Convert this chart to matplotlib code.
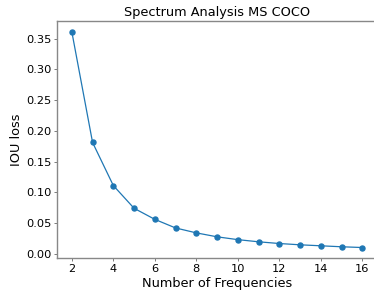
import matplotlib
matplotlib.use("Agg")
import matplotlib.pyplot as plt

num_freq = [2, 3, 4, 5, 6, 7, 8, 9, 10, 11, 12, 13, 14, 15, 16]
iou_loss = [0.361, 0.181, 0.111, 0.074, 0.056, 0.042, 0.034, 0.0276, 0.023,
            0.0195, 0.0167, 0.0146, 0.013, 0.0114, 0.0102]
xticks = [2, 4, 6, 8, 10, 12, 14, 16]

fig = plt.figure(figsize=(3.74, 2.95), dpi=100)
ax = fig.add_axes([57.3 / 374, 36.7 / 295, (376.8 - 57.3) / 374, (274 - 36.7) / 295])
ax.plot(num_freq, iou_loss, marker='o', color='#1f77b4', linewidth=0.9, markersize=3.6)
ax.set_xticks(xticks)
ax.set_title("Spectrum Analysis MS COCO", fontsize=9.25, pad=3.5)
ax.set_xlabel("Number of Frequencies", fontsize=9.25, labelpad=2.3)
ax.set_ylabel("IOU loss", fontsize=9.25, labelpad=2.3)
ax.tick_params(labelsize=8.2, length=2.1, pad=2.1, width=0.6, color='#666666')
for s in ax.spines.values():
    s.set_color('#888888')
    s.set_linewidth(1.0)
fig.savefig("out.png", dpi=100)
